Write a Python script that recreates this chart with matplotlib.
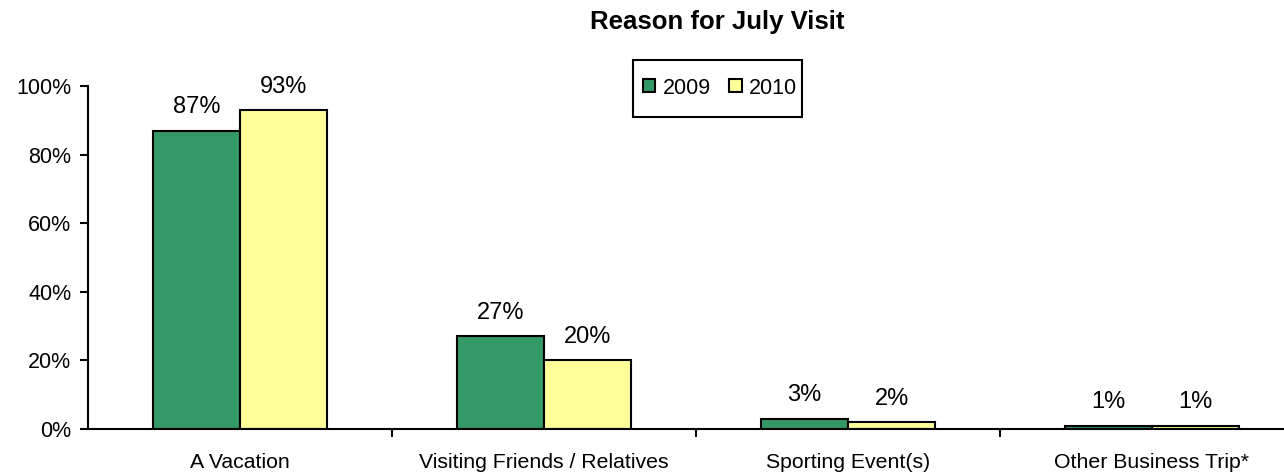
import matplotlib.pyplot as plt
from matplotlib.patches import Rectangle
import numpy as np

plt.rcParams['font.family'] = ['Liberation Sans', 'DejaVu Sans']

categories = ["A Vacation", "Visiting Friends / Relatives", "Sporting Event(s)", "Other Business Trip*"]
years = ["2009", "2010"]
pct_2009 = [87, 27, 3, 1]
pct_2010 = [93, 20, 2, 1]

green = "#339966"
yellow = "#FFFF99"

W, H = 1284, 472
fig = plt.figure(figsize=(W / 100, H / 100), dpi=100)
ax = fig.add_axes([88 / W, 43 / H, 1 - 88 / W, 343 / H])

x = np.arange(len(categories))
w = 0.287
b1 = ax.bar(x - w / 2, pct_2009, w, color=green, edgecolor="black", linewidth=1.5, label=years[0])
b2 = ax.bar(x + w / 2, pct_2010, w, color=yellow, edgecolor="black", linewidth=1.5, label=years[1])

for bars, vals in [(b1, pct_2009), (b2, pct_2010)]:
    for bar, v in zip(bars, vals):
        ax.annotate(f"{v}%", (bar.get_x() + bar.get_width() / 2, v),
                    xytext=(0, 9), textcoords="offset points",
                    ha="center", va="bottom", fontsize=17)

ax.set_ylim(0, 100)
ax.set_xlim(-0.5, 3.5 - 20 / 304)
ax.set_yticks(range(0, 101, 20))
ax.set_yticklabels([f"{t}%" for t in range(0, 101, 20)], fontsize=15.5)

# category labels centred, tick marks between the groups
ax.set_xticks(x)
ax.set_xticklabels(categories, fontsize=15.3)
ax.tick_params(axis="x", length=0, pad=17)
ax.set_xticks(np.arange(0.5, 3, 1), minor=True)
ax.tick_params(axis="x", which="minor", length=6, width=1.5, direction="out")
ax.tick_params(axis="y", length=6, width=1.5, direction="out", pad=6)

for s in ["top", "right"]:
    ax.spines[s].set_visible(False)
for s in ["left", "bottom"]:
    ax.spines[s].set_linewidth(1.5)

# legend without its own frame; a plain box is drawn round it
leg = fig.legend(handles=[b1, b2], loc="center", bbox_to_anchor=(720 / W, 1 - 88 / H),
                 ncol=2, fontsize=15.5, frameon=False,
                 handlelength=0.56, handleheight=0.56, handletextpad=0.33,
                 columnspacing=0.88, borderpad=0, borderaxespad=0)
fig.add_artist(Rectangle((633 / W, 1 - 117 / H), 169 / W, 57 / H, transform=fig.transFigure,
                         fill=False, edgecolor="black", linewidth=1.5))

fig.text(717 / W, 1 - 22 / H, "Reason for July Visit", ha="center", va="center",
         fontsize=18.5, fontweight="bold")

fig.savefig("out.png", dpi=100)
